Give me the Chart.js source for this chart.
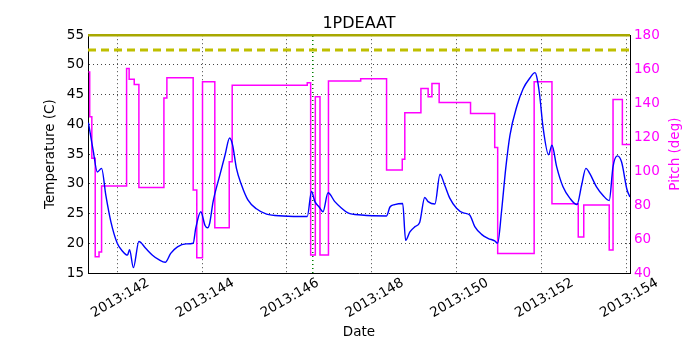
<!DOCTYPE html>
<html>
<head>
<meta charset="utf-8">
<title>1PDEAAT</title>
<script src="https://cdn.jsdelivr.net/npm/chart.js@4.4.0/dist/chart.umd.min.js"></script>
<style>
    body { margin: 0; background: #ffffff; }
    #chart-box { width: 700px; height: 350px; }
</style>
</head>
<body>
<div id="chart-box"><canvas id="pitch-chart" width="700" height="350"></canvas></div>
<script>
// 时间轴 (年积日, 2013)
const tempDays = [141.32, 141.43, 141.53, 141.63, 141.73, 141.85, 142.00, 142.12, 142.24, 142.29,
    142.38, 142.51, 142.67, 142.83, 142.99, 143.13, 143.26, 143.42, 143.62, 143.79,
    143.85, 143.97, 144.07, 144.13, 144.18, 144.26, 144.42, 144.54, 144.65, 144.72,
    144.81, 144.93, 145.08, 145.28, 145.52, 145.91, 146.48, 146.58, 146.66, 146.76,
    146.85, 146.97, 147.13, 147.29, 147.44, 147.76, 148.35, 148.43, 148.54, 148.73,
    148.80, 148.90, 149.02, 149.13, 149.25, 149.33, 149.49, 149.61, 149.72, 149.84,
    150.00, 150.16, 150.31, 150.43, 150.59, 150.75, 150.90, 150.97, 151.06, 151.16,
    151.26, 151.42, 151.57, 151.73, 151.85, 151.90, 151.96, 152.04, 152.17, 152.25,
    152.36, 152.51, 152.67, 152.84, 152.95, 153.05, 153.14, 153.30, 153.46, 153.60,
    153.69, 153.79, 153.89, 154.02, 154.09];
// 温度 (C)
const tempValues = [40.3, 35.7, 32.0, 32.6, 28.1, 23.6, 20.0, 18.7, 18.0, 18.9,
    15.9, 20.3, 19.15, 18.0, 17.2, 16.8, 18.3, 19.4, 19.9, 20.0,
    22.5, 25.3, 23.0, 22.6, 23.4, 27.0, 31.5, 34.8, 37.7, 36.5,
    32.6, 29.8, 27.3, 25.8, 24.9, 24.6, 24.5, 28.7, 27.0, 26.1,
    25.3, 28.5, 27.0, 25.9, 25.1, 24.75, 24.6, 26.1, 26.5, 26.7,
    20.5, 21.9, 22.8, 23.5, 27.7, 27.0, 26.6, 31.6, 29.8, 27.6,
    25.9, 25.1, 24.75, 22.8, 21.5, 20.8, 20.4, 20.0, 25.3, 32.6,
    38.2, 43.0, 46.0, 47.8, 48.7, 47.7, 44.9, 39.5, 34.9, 36.5,
    32.9, 29.5, 27.6, 26.5, 29.8, 32.6, 31.75, 29.5, 28.0, 27.2,
    32.9, 34.7, 33.7, 29.0, 27.8];

// 俯仰角 (deg), 每个值保持到下一个时间点
const pitchDays = [141.32, 141.35, 141.40, 141.48, 141.57, 141.63, 142.22, 142.28, 142.40, 142.51,
    143.10, 143.17, 143.79, 143.875, 144.01, 144.30, 144.64, 144.71, 146.48, 146.56,
    146.67, 146.78, 146.98, 147.74, 148.35, 148.72, 148.78, 149.16, 149.33, 149.42,
    149.59, 150.33, 150.90, 150.97, 151.83, 152.25, 152.87, 153.00, 153.60, 153.69,
    153.91, 154.09];
const pitchValues = [158.4, 132, 107.6, 49.6, 52.4, 91.2, 160.4, 154, 151, 90.4,
    143, 154.9, 88.8, 49, 152.6, 66.7, 105.5, 150.6, 152, 50.6,
    143.7, 50.6, 153, 154.3, 100.6, 106.9, 134.3, 148.6, 143.7, 151.6,
    140.4, 133.9, 113.9, 51.5, 152.6, 80.8, 61.2, 80, 53.5, 142.2,
    115.7, 115.7];

// 限值线与标记
const dayRange = [141.31, 154.09];
const planningLimit = [52.5, 52.5];
const cautionLimit = [55, 55];
const markerDay = [146.61, 146.61];
const markerTemp = [15, 55];

// 刻度
const tempTicks = [15, 20, 25, 30, 35, 40, 45, 50, 55];
const pitchTicks = [40, 60, 80, 100, 120, 140, 160, 180];

function toPoints(xs, ys) {
    return xs.map(function(x, i) { return { x: x, y: ys[i] }; });
}

// 右侧轴标题 (自下而上)
const rightTitlePlugin = {
    id: 'rightTitle',
    afterDraw: function(chart) {
        const ctx = chart.ctx;
        const area = chart.chartArea;
        ctx.save();
        ctx.translate(675, (area.top + area.bottom) / 2);
        ctx.rotate(-Math.PI / 2);
        ctx.font = '13.5px "DejaVu Sans"';
        ctx.fillStyle = '#ff00ff';
        ctx.textAlign = 'center';
        ctx.textBaseline = 'middle';
        ctx.fillText('Pitch (deg)', 0, 0);
        ctx.restore();
    }
};

Chart.defaults.font.family = '"DejaVu Sans", sans-serif';
Chart.defaults.color = '#000000';

new Chart(document.getElementById('pitch-chart'), {
    type: 'line',
    data: {
        datasets: [
            {
                label: 'Temperature',
                data: toPoints(tempDays, tempValues),
                yAxisID: 'y',
                borderColor: '#0000ff',
                borderWidth: 1.4,
                pointRadius: 0,
                cubicInterpolationMode: 'monotone',
                order: 1
            },
            {
                label: 'Pitch',
                data: toPoints(pitchDays, pitchValues),
                yAxisID: 'y1',
                borderColor: '#ff00ff',
                borderWidth: 1.5,
                pointRadius: 0,
                stepped: 'before',
                order: 2
            },
            {
                label: 'Planning limit',
                data: toPoints(dayRange, planningLimit),
                yAxisID: 'y',
                borderColor: '#bfbf00',
                borderWidth: 3,
                borderDash: [8, 5],
                pointRadius: 0,
                order: 0
            },
            {
                label: 'Caution limit',
                data: toPoints(dayRange, cautionLimit),
                yAxisID: 'y',
                borderColor: '#a8a800',
                borderWidth: 2.5,
                pointRadius: 0,
                clip: false,
                order: 0
            },
            {
                label: 'Marker',
                data: toPoints(markerDay, markerTemp),
                yAxisID: 'y',
                borderColor: '#008000',
                borderWidth: 1.5,
                borderDash: [1, 3],
                pointRadius: 0,
                order: 3
            }
        ]
    },
    options: {
        responsive: false,
        animation: false,
        devicePixelRatio: 1,
        layout: { padding: 0 },
        plugins: {
            legend: { display: false },
            tooltip: { enabled: false },
            title: {
                display: true,
                text: '1PDEAAT',
                fullSize: false,
                color: '#000000',
                font: { size: 16, weight: 'normal' },
                padding: { top: 14, bottom: 2 }
            }
        },
        scales: {
            x: {
                type: 'linear',
                min: dayRange[0],
                max: dayRange[1],
                afterFit: function(scale) { scale.height = 77; },
                grid: {
                    drawTicks: false,
                    color: function(ctx) {
                        return ctx.tick && ctx.tick.value % 2 === 0 ? '#444444' : 'rgba(0,0,0,0)';
                    }
                },
                border: { color: '#000000', width: 1, dash: [1, 3] },
                ticks: {
                    stepSize: 1,
                    includeBounds: false,
                    autoSkip: false,
                    minRotation: 30,
                    maxRotation: 30,
                    labelOffset: 31,
                    padding: 2,
                    font: { size: 13.5 },
                    callback: function(value) {
                        return value % 2 === 0 ? '2013:' + value : '';
                    }
                },
                title: {
                    display: true,
                    text: 'Date',
                    font: { size: 13.5 },
                    padding: { top: 0, bottom: 9 }
                }
            },
            y: {
                position: 'left',
                min: 15,
                max: 55,
                afterFit: function(scale) { scale.width = 88; },
                afterBuildTicks: function(scale) {
                    scale.ticks = tempTicks.map(function(v) { return { value: v }; });
                },
                grid: {
                    drawTicks: false,
                    color: function(ctx) {
                        const v = ctx.tick ? ctx.tick.value : 0;
                        return v === 15 || v === 55 ? 'rgba(0,0,0,0)' : '#444444';
                    }
                },
                border: { color: '#000000', width: 1, dash: [1, 3] },
                ticks: { padding: 4, font: { size: 13.5 } },
                title: {
                    display: true,
                    text: 'Temperature (C)',
                    font: { size: 13.5 },
                    padding: { top: 42, bottom: 0 }
                }
            },
            y1: {
                position: 'right',
                min: 40,
                max: 180,
                afterFit: function(scale) { scale.width = 70; },
                afterBuildTicks: function(scale) {
                    scale.ticks = pitchTicks.map(function(v) { return { value: v }; });
                },
                grid: { drawOnChartArea: false, drawTicks: false },
                border: { color: '#000000', width: 1 },
                ticks: { padding: 4, color: '#ff00ff', font: { size: 13.5 } }
            }
        }
    },
    plugins: [rightTitlePlugin]
});
</script>
</body>
</html>
